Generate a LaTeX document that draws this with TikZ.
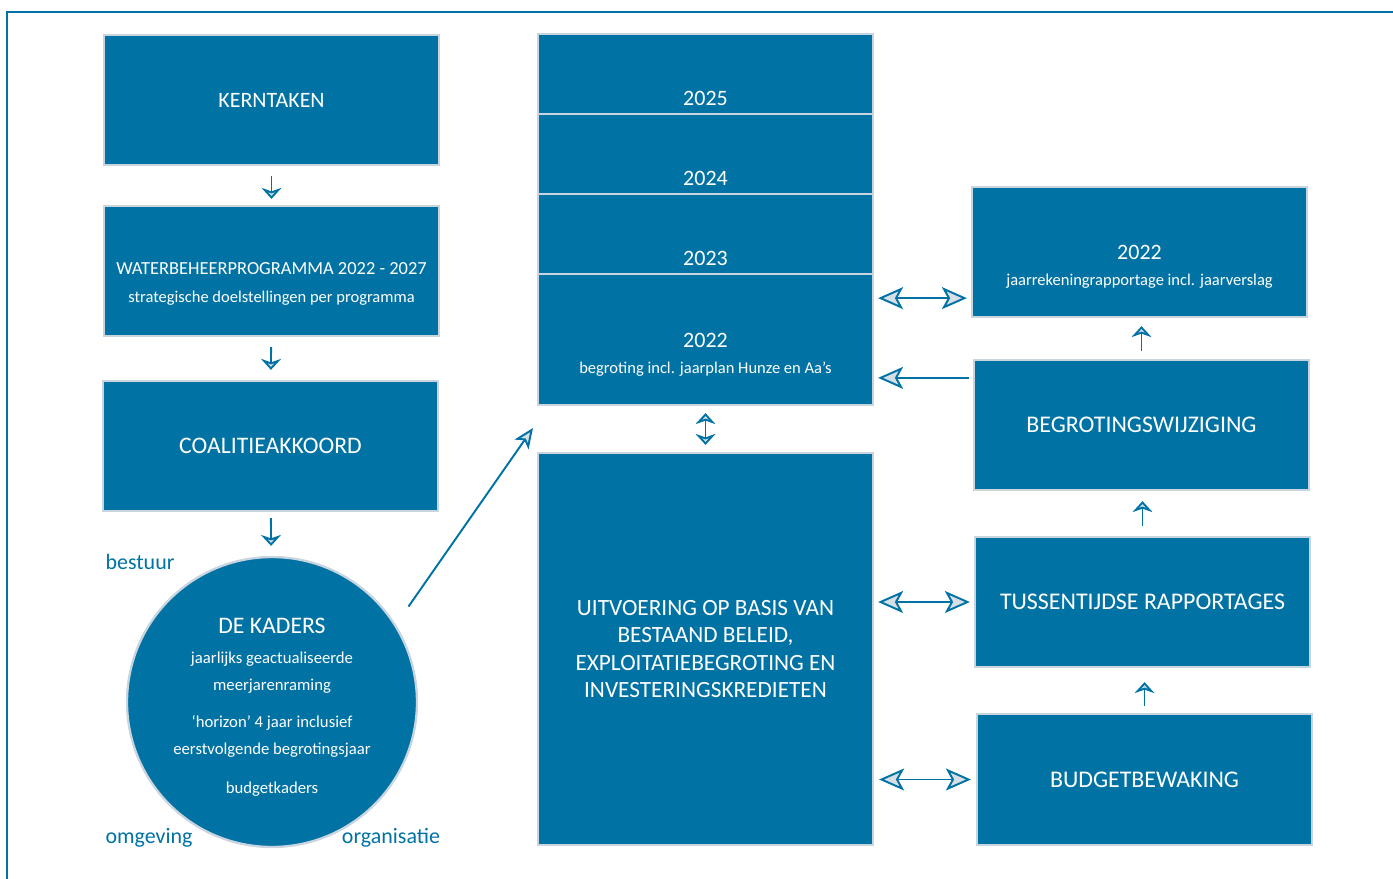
\documentclass[tikz,border=0pt]{standalone}
\usepackage{fontspec}
\setmainfont{Carlito}
\usetikzlibrary{positioning, calc, arrows.meta}

\definecolor{wsblauw}{RGB}{0,114,164}
\definecolor{blokrand}{RGB}{200,212,222}
\definecolor{pijlvul}{RGB}{214,222,230}

\begin{document}
\begin{tikzpicture}[
            x = 0.02cm, y = -0.02cm, % one unit = one pixel of the original
            pijlkop/.tip = {Stealth[length=0.5cm, width=0.44cm, inset=0.12cm, fill=pijlvul]},
            kleinkop/.tip = {Stealth[length=0.22cm, width=0.4cm, inset=0.07cm, fill=pijlvul]},
            > = pijlkop, % arrow head style
            blok/.style = {rectangle, draw = blokrand, line width = 1.3pt, fill = wsblauw,
                text = white, align = center, inner sep = 2pt,
                minimum width = 6.7cm, minimum height = 2.6cm},
            jaartekst/.style = {text = white, align = center, font = \fontsize{12.5}{15}\selectfont},
            wbptekst/.style = {jaartekst, font = \fontsize{10.5}{16}\selectfont},
            kadertekst/.style = {jaartekst, font = \fontsize{9.5}{15.5}\selectfont},
            randtekst/.style = {text = wsblauw, font = \fontsize{12.5}{15}\selectfont},
            pijl/.style = {draw = wsblauw, line width = 1.1pt},
            klein/.style = {pijl, -kleinkop},
        ]

        \useasboundingbox (0,0) rectangle (1393,879);

        % frame (only top and left edge are on the page)
        \draw[wsblauw, line width = 1.6pt] (7,879) -- (7,12) -- (1393,12);

        % left column
        \node[blok, font = \fontsize{12.5}{14}\selectfont] (kern) at (271.5,100) {KERNTAKEN};
        \node[blok, label = {[wbptekst, yshift = -0.25cm]center:{WATERBEHEERPROGRAMMA 2022 - 2027\\{\fontsize{9.4}{11}\selectfont strategische doelstellingen per programma}}}] (wbp) at (271.5,271) {};
        \node[blok, font = \fontsize{13.5}{16}\selectfont] (coal) at (270.5,446) {COALITIEAKKOORD};

        \node[circle, draw = blokrand, line width = 1.3pt, fill = wsblauw, minimum size = 5.8cm,
            label = {[kadertekst, yshift = -0.1cm]center:{{\fontsize{13.5}{16}\selectfont DE KADERS}\\[1.5pt]%
             jaarlijks geactualiseerde\\%
             meerjarenraming\\[5.5pt]%
             ‘horizon’ 4 jaar inclusief\\%
             eerstvolgende begrotingsjaar\\[6.5pt]%
             budgetkaders}}] (kaders) at (272,702) {};

        \node[randtekst] (bestuur) at (140,562) {bestuur};
        \node[randtekst] (omgeving) at (149,838) {omgeving};
        \node[randtekst] (organisatie) at (391,838) {organisatie};

        % year stack
        \node[blok, minimum height = 1.6cm, label = {[jaartekst, yshift = -0.48cm]center:2025}] (y2025) at (705.5,74) {};
        \node[blok, minimum height = 1.6cm, label = {[jaartekst, yshift = -0.48cm]center:2024}] (y2024) at (705.5,154) {};
        \node[blok, minimum height = 1.6cm, label = {[jaartekst, yshift = -0.48cm]center:2023}] (y2023) at (705.5,234) {};
        \node[blok, minimum height = 2.62cm,
            label = {[jaartekst, yshift = -0.3cm]center:{2022\\{\fontsize{9.4}{11}\selectfont begroting incl. jaarplan Hunze en Aa’s}}}] (y2022) at (705.5,339.5) {};

        \node[blok, minimum height = 7.84cm, font = \fontsize{13.25}{15.7}\selectfont] (uitv) at (705.5,649)
            {UITVOERING OP BASIS VAN\\BESTAAND BELEID,\\EXPLOITATIEBEGROTING EN\\INVESTERINGSKREDIETEN};

        % right column
        \node[blok, label = {[jaartekst, yshift = -0.3cm]center:{2022\\{\fontsize{9.4}{11}\selectfont jaarrekeningrapportage incl. jaarverslag}}}] (jr2022) at (1139.5,252) {};
        \node[blok, font = \fontsize{13.6}{16}\selectfont] (wijz) at (1141.5,425) {BEGROTINGSWIJZIGING};
        \node[blok, font = \fontsize{13.6}{16}\selectfont] (tuss) at (1142.5,602) {TUSSENTIJDSE RAPPORTAGES};
        \node[blok, font = \fontsize{13.6}{16}\selectfont, minimum height = 2.62cm] (budg) at (1144.5,779.5) {BUDGETBEWAKING};

        \coordinate (diagnaar) at (533,428);

        % small arrows
        \path[klein]
            (kern)  edge[shorten <= 0.2cm, shorten >= 0.12cm]  (wbp)
            (wbp)   edge[shorten <= 0.2cm, shorten >= 0.2cm]   (coal)
            (coal)  edge[shorten <= 0.12cm, shorten >= 0.2cm]  (kaders);
        \draw[pijl, kleinkop-kleinkop, shorten <= 0.14cm, shorten >= 0.14cm] (y2022.south) -- (uitv.north);
        \draw[klein, shorten <= 0.16cm, shorten >= 0.16cm] (wijz.north) -- (wijz.north |- jr2022.south);
        \draw[klein, shorten <= 0.2cm, shorten >= 0.2cm] (tuss.north) -- (tuss.north |- wijz.south);
        \draw[klein, shorten <= 0.14cm, shorten >= 0.28cm] (budg.north) -- (budg.north |- tuss.south);

        % big arrows
        \draw[pijl, -{Stealth[length=0.4cm, width=0.34cm, inset=0.1cm, fill=pijlvul]}, shorten <= 0.44cm] (kaders.32) -- (diagnaar);
        \draw[pijl, <->, shorten <= 0.08cm, shorten >= 0.08cm]
            ($(y2022.east |- jr2022.south)+(0,-20)$) -- ($(jr2022.south west)+(0,-20)$);
        \draw[pijl, ->, shorten <= 0.08cm, shorten >= 0.08cm]
            ($(wijz.north west)+(0,19)$) -- ($(y2022.east |- wijz.north west)+(0,19)$);
        \draw[pijl, <->, shorten <= 0.08cm, shorten >= 0.08cm] (uitv.east |- tuss.west) -- (tuss.west);
        \draw[pijl, <->, shorten <= 0.1cm, shorten >= 0.1cm] (uitv.east |- budg.west) -- (budg.west);

\end{tikzpicture}
\end{document}
